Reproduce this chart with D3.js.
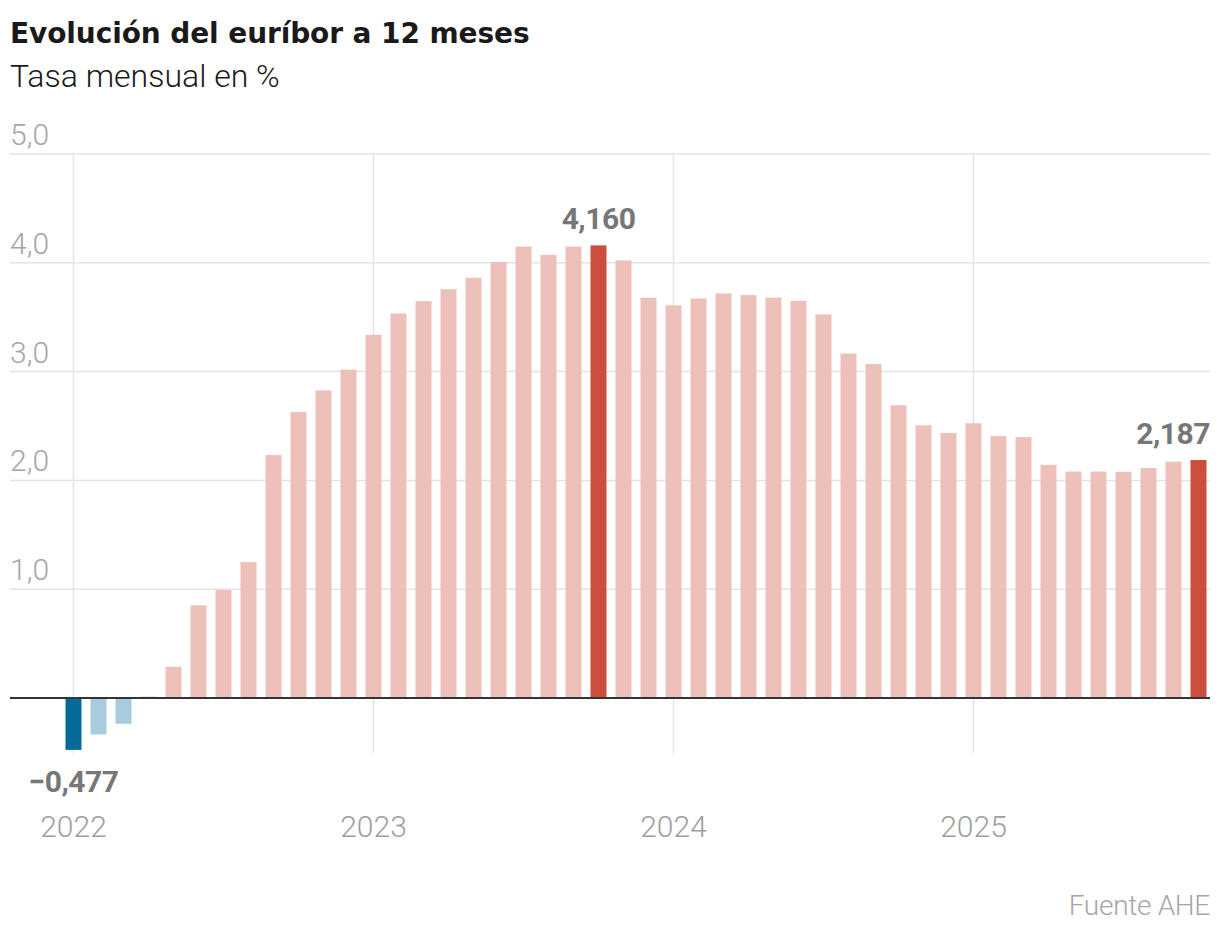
<!DOCTYPE html>
<html>
<head>
<meta charset="utf-8">
<script src="https://cdn.jsdelivr.net/npm/d3@7"></script>
<style>
  html, body { margin: 0; padding: 0; background: #fff; }
  svg { display: block; font-family: Roboto, "Noto Sans", sans-serif; }
</style>
</head>
<body>
<svg id="chart" width="1220" height="934"></svg>
<script>
// ---- Data ----
const months = [
  "2022-01","2022-02","2022-03","2022-04","2022-05","2022-06","2022-07","2022-08","2022-09","2022-10","2022-11","2022-12",
  "2023-01","2023-02","2023-03","2023-04","2023-05","2023-06","2023-07","2023-08","2023-09","2023-10","2023-11","2023-12",
  "2024-01","2024-02","2024-03","2024-04","2024-05","2024-06","2024-07","2024-08","2024-09","2024-10","2024-11","2024-12",
  "2025-01","2025-02","2025-03","2025-04","2025-05","2025-06","2025-07","2025-08","2025-09","2025-10"
];
const euribor = [
  -0.477, -0.335, -0.237, 0.013, 0.287, 0.852, 0.992, 1.249, 2.233, 2.629, 2.828, 3.018,
  3.337, 3.534, 3.647, 3.757, 3.862, 4.007, 4.149, 4.073, 4.149, 4.160, 4.022, 3.679,
  3.609, 3.671, 3.718, 3.703, 3.680, 3.650, 3.526, 3.166, 3.070, 2.691, 2.506, 2.436,
  2.525, 2.407, 2.398, 2.143, 2.081, 2.081, 2.079, 2.114, 2.172, 2.187
];
const highlighted = ["2022-01", "2023-10", "2025-10"];
const yearTicks = ["2022-01", "2023-01", "2024-01", "2025-01"];
const yearLabels = ["2022", "2023", "2024", "2025"];
const yTicks = [1, 2, 3, 4, 5];
const title = "Evolución del euríbor a 12 meses";
const subtitle = "Tasa mensual en %";
const source = "Fuente AHE";

// ---- Layout ----
const svg = d3.select("#chart");
const left = 10, right = 1210;
const x = d3.scaleBand().domain(months).range([61, 1211]).paddingInner(0.36).paddingOuter(0.18);
const y = d3.scaleLinear().domain([0, 5]).range([698, 154]);
const fmt = v => d3.format(".3f")(v).replace(".", ",").replace("-", "\u2212");
const fmt1 = v => d3.format(".1f")(v).replace(".", ",");

// Title
svg.append("text").attr("x", 10).attr("y", 43)
  .attr("font-family", "'DejaVu Sans', Roboto, sans-serif")
  .attr("font-size", 28).attr("font-weight", 700).attr("fill", "#1a1a1a")
  .attr("letter-spacing", -0.1)
  .text(title);
svg.append("text").attr("x", 10).attr("y", 87)
  .attr("font-size", 32).attr("font-weight", 300).attr("fill", "#1a1a1a")
  .text(subtitle);

// Horizontal gridlines + labels
const grid = svg.append("g");
grid.selectAll("line.h").data(yTicks).join("line")
  .attr("x1", left).attr("x2", right)
  .attr("y1", d => y(d)).attr("y2", d => y(d))
  .attr("stroke", "#e4e4e4").attr("stroke-width", 1.5);
grid.selectAll("text.yl").data(yTicks).join("text")
  .attr("x", left).attr("y", d => y(d) - 9)
  .attr("font-size", 30).attr("font-weight", 300).attr("fill", "#a6a6a6")
  .text(d => fmt1(d));

// Vertical year gridlines
grid.selectAll("line.v").data(yearTicks).join("line")
  .attr("x1", d => x(d) + x.bandwidth() / 2).attr("x2", d => x(d) + x.bandwidth() / 2)
  .attr("y1", y(5)).attr("y2", 753)
  .attr("stroke", "#e4e4e4").attr("stroke-width", 1.5);

// Bars
const colorFor = (m, v) => {
  const hl = highlighted.includes(m);
  if (v < 0) return hl ? "#066a9b" : "#a8ccdd";
  return hl ? "#cb4f3c" : "#edc0b9";
};
svg.append("g").selectAll("rect").data(months).join("rect")
  .attr("x", d => x(d))
  .attr("width", x.bandwidth())
  .attr("y", (d, i) => y(Math.max(0, euribor[i])))
  .attr("height", (d, i) => Math.abs(y(euribor[i]) - y(0)))
  .attr("fill", (d, i) => colorFor(d, euribor[i]));

// Zero line
svg.append("line").attr("x1", left).attr("x2", right)
  .attr("y1", y(0)).attr("y2", y(0))
  .attr("stroke", "#333").attr("stroke-width", 2);

// Year labels
svg.append("g").selectAll("text").data(yearTicks).join("text")
  .attr("x", d => x(d) + x.bandwidth() / 2).attr("y", 837)
  .attr("text-anchor", "middle")
  .attr("font-size", 30).attr("font-weight", 300).attr("fill", "#9e9e9e")
  .text((d, i) => yearLabels[i]);

// Value annotations
highlighted.forEach((m) => {
  const i = months.indexOf(m);
  const v = euribor[i];
  const cx = x(m) + x.bandwidth() / 2;
  const isLast = i === months.length - 1;
  svg.append("text")
    .attr("x", isLast ? right : cx)
    .attr("y", v < 0 ? y(v) + 42 : y(v) - 16)
    .attr("text-anchor", isLast ? "end" : "middle")
    .attr("font-size", 30).attr("font-weight", 700).attr("fill", "#777")
    .attr("letter-spacing", -0.5)
    .text(fmt(v));
});

// Source
svg.append("text").attr("x", right).attr("y", 915)
  .attr("text-anchor", "end")
  .attr("font-size", 28).attr("font-weight", 300).attr("fill", "#a6a6a6")
  .attr("letter-spacing", -0.3)
  .text(source);
</script>
</body>
</html>
